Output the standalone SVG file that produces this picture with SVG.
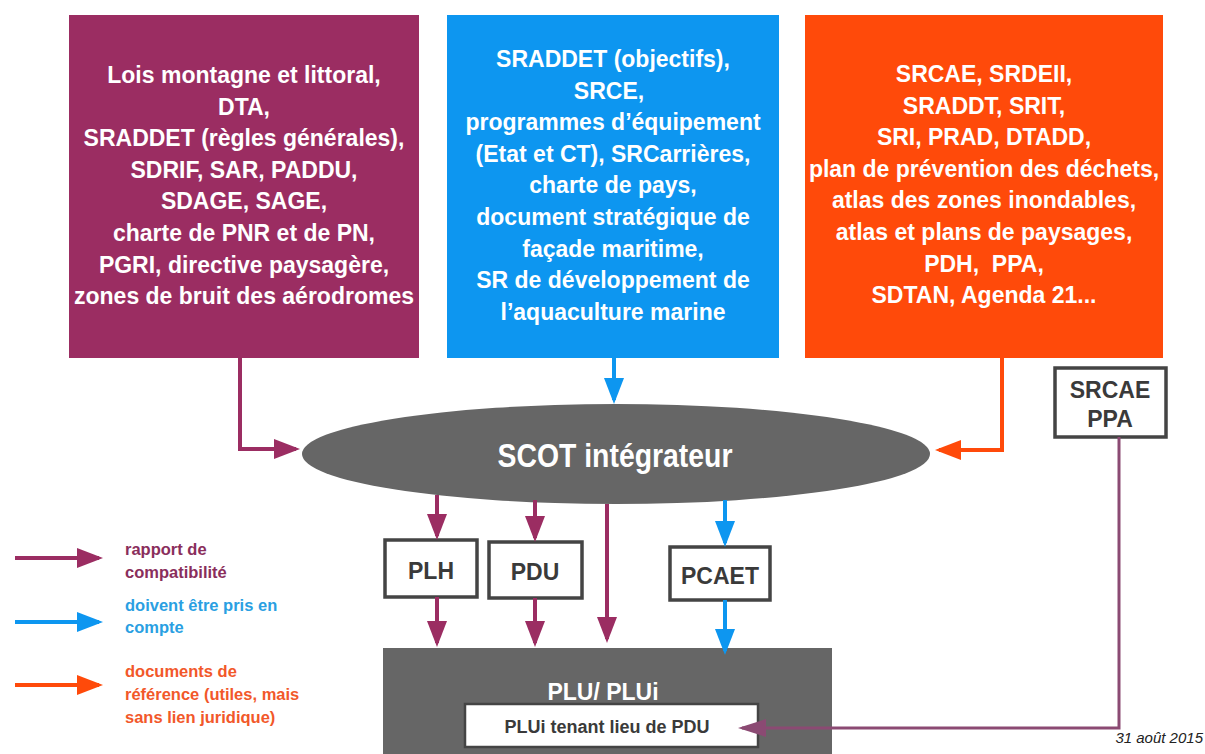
<svg xmlns="http://www.w3.org/2000/svg" width="1205" height="754" viewBox="0 0 1205 754">
<style>
.big{font-family:"Liberation Sans",Arial,sans-serif;font-weight:bold;font-size:23px;fill:#ffffff;text-anchor:middle}
.box{fill:#ffffff;stroke:#444444;stroke-width:3.5}
.boxt{font-family:"Liberation Sans",Arial,sans-serif;font-weight:bold;font-size:23px;fill:#3a3a3a;text-anchor:middle}
.leg{font-family:"Liberation Sans",Arial,sans-serif;font-weight:bold;font-size:16.5px}
.cp{stroke:#9b2d62;stroke-width:4;fill:none}
.cb{stroke:#0d96f0;stroke-width:4;fill:none}
.co{stroke:#ff4a0a;stroke-width:4;fill:none}
.ct{stroke:#8b4a73;stroke-width:3;fill:none}
</style>
<defs>
<marker id="mp" viewBox="0 0 26 20" markerWidth="26" markerHeight="20" refX="22" refY="10" orient="auto" markerUnits="userSpaceOnUse"><path d="M0,0 L26,10 L0,20 Z" fill="#9b2d62"/></marker>
<marker id="mb" viewBox="0 0 26 20" markerWidth="26" markerHeight="20" refX="22" refY="10" orient="auto" markerUnits="userSpaceOnUse"><path d="M0,0 L26,10 L0,20 Z" fill="#0d96f0"/></marker>
<marker id="mo" viewBox="0 0 26 20" markerWidth="26" markerHeight="20" refX="22" refY="10" orient="auto" markerUnits="userSpaceOnUse"><path d="M0,0 L26,10 L0,20 Z" fill="#ff4a0a"/></marker>
<marker id="mt" viewBox="0 0 28 18" markerWidth="28" markerHeight="18" refX="24" refY="9" orient="auto" markerUnits="userSpaceOnUse"><path d="M0,0 L28,9 L0,18 Z" fill="#8b4a73"/></marker>
</defs>
<rect width="1205" height="754" fill="#ffffff"/>

<g id="box-compatibilite">
<rect x="69" y="15" width="350" height="343" fill="#9b2d62"/>
<text class="big" x="244" y="83">Lois montagne et littoral,</text>
<text class="big" x="244" y="114.6">DTA,</text>
<text class="big" x="244" y="146.2">SRADDET (règles générales),</text>
<text class="big" x="244" y="177.8">SDRIF, SAR, PADDU,</text>
<text class="big" x="244" y="209.4">SDAGE, SAGE,</text>
<text class="big" x="244" y="241">charte de PNR et de PN,</text>
<text class="big" x="244" y="272.6">PGRI, directive paysagère,</text>
<text class="big" x="244" y="304.2">zones de bruit des aérodromes</text>
</g>

<g id="box-prise-en-compte">
<rect x="447" y="15" width="332" height="343" fill="#0d96f0"/>
<text class="big" x="613" y="67">SRADDET (objectifs),</text>
<text class="big" x="609" y="98.6">SRCE,</text>
<text class="big" x="613" y="130.2">programmes d’équipement</text>
<text class="big" x="613" y="161.8">(Etat et CT), SRCarrières,</text>
<text class="big" x="613" y="193.4">charte de pays,</text>
<text class="big" x="613" y="225">document stratégique de</text>
<text class="big" x="613" y="256.6">façade maritime,</text>
<text class="big" x="613" y="288.2">SR de développement de</text>
<text class="big" x="613" y="319.8">l’aquaculture marine</text>
</g>

<g id="box-reference">
<rect x="805" y="15" width="358" height="343" fill="#ff4a0a"/>
<text class="big" x="984" y="82">SRCAE, SRDEII,</text>
<text class="big" x="984" y="113.6">SRADDT, SRIT,</text>
<text class="big" x="984" y="145.2">SRI, PRAD, DTADD,</text>
<text class="big" x="984" y="176.8">plan de prévention des déchets,</text>
<text class="big" x="984" y="208.4">atlas des zones inondables,</text>
<text class="big" x="984" y="240">atlas et plans de paysages,</text>
<text class="big" x="984" y="271.6">PDH,&#160; PPA,</text>
<text class="big" x="984" y="303.2">SDTAN, Agenda 21...</text>
</g>

<g id="scot">
<ellipse cx="616" cy="454" rx="314" ry="50" fill="#666666"/>
<text x="615" y="467" font-family="Liberation Sans, Arial, sans-serif" font-weight="bold" font-size="34" fill="#ffffff" text-anchor="middle" textLength="235" lengthAdjust="spacingAndGlyphs">SCOT intégrateur</text>
</g>

<g id="srcae-ppa">
<rect class="box" x="1055" y="368" width="111" height="69"/>
<text class="boxt" x="1110" y="398">SRCAE</text>
<text class="boxt" x="1110" y="427">PPA</text>
</g>

<g id="plh">
<rect class="box" x="385" y="540" width="92" height="57"/>
<text class="boxt" x="431" y="579">PLH</text>
</g>
<g id="pdu">
<rect class="box" x="489" y="542" width="93" height="56"/>
<text class="boxt" x="535" y="580">PDU</text>
</g>
<g id="pcaet">
<rect class="box" x="670" y="547" width="100" height="53"/>
<text class="boxt" x="720" y="584">PCAET</text>
</g>

<g id="plu">
<rect x="383" y="648" width="449" height="110" fill="#666666"/>
<text x="603" y="700" font-family="Liberation Sans, Arial, sans-serif" font-weight="bold" font-size="23" fill="#ffffff" text-anchor="middle">PLU/ PLUi</text>
</g>
<g id="plui-pdu">
<rect x="465" y="704" width="293" height="43" fill="#ffffff" stroke="#444444" stroke-width="2.5"/>
<text x="607" y="733" font-family="Liberation Sans, Arial, sans-serif" font-weight="bold" font-size="18" fill="#3a3a3a" text-anchor="middle">PLUi tenant lieu de PDU</text>
</g>

<g id="connectors">
<path class="cp" d="M240,358 V449 H296" marker-end="url(#mp)"/>
<path class="cb" d="M614,358 V400" marker-end="url(#mb)"/>
<path class="co" d="M1002,358 V450 H939" marker-end="url(#mo)"/>
<path class="cp" d="M437,495 V536" marker-end="url(#mp)"/>
<path class="cp" d="M535,500 V538" marker-end="url(#mp)"/>
<path class="cp" d="M607,504 V639" marker-end="url(#mp)"/>
<path class="cb" d="M725,500 V543" marker-end="url(#mb)"/>
<path class="cp" d="M437,597 V643" marker-end="url(#mp)"/>
<path class="cp" d="M535,598 V643" marker-end="url(#mp)"/>
<path class="cb" d="M725,600 V651" marker-end="url(#mb)"/>
<path class="ct" d="M1119,437 V728 H742" marker-end="url(#mt)"/>
</g>

<g id="legend">
<path class="cp" d="M15,558 H99" marker-end="url(#mp)"/>
<text class="leg" fill="#8a2e5c" x="125" y="555">rapport de</text>
<text class="leg" fill="#8a2e5c" x="125" y="578">compatibilité</text>
<path class="cb" d="M15,622 H99" marker-end="url(#mb)"/>
<text class="leg" fill="#2a9fe2" x="125" y="611">doivent être pris en</text>
<text class="leg" fill="#2a9fe2" x="125" y="633">compte</text>
<path class="co" d="M15,685 H99" marker-end="url(#mo)"/>
<text class="leg" fill="#f2582a" x="125" y="677">documents de</text>
<text class="leg" fill="#f2582a" x="125" y="700">référence (utiles, mais</text>
<text class="leg" fill="#f2582a" x="125" y="723">sans lien juridique)</text>
</g>

<text x="1203" y="743" font-family="Liberation Sans, Arial, sans-serif" font-style="italic" font-size="15" fill="#222222" text-anchor="end">31 août 2015</text>
</svg>
